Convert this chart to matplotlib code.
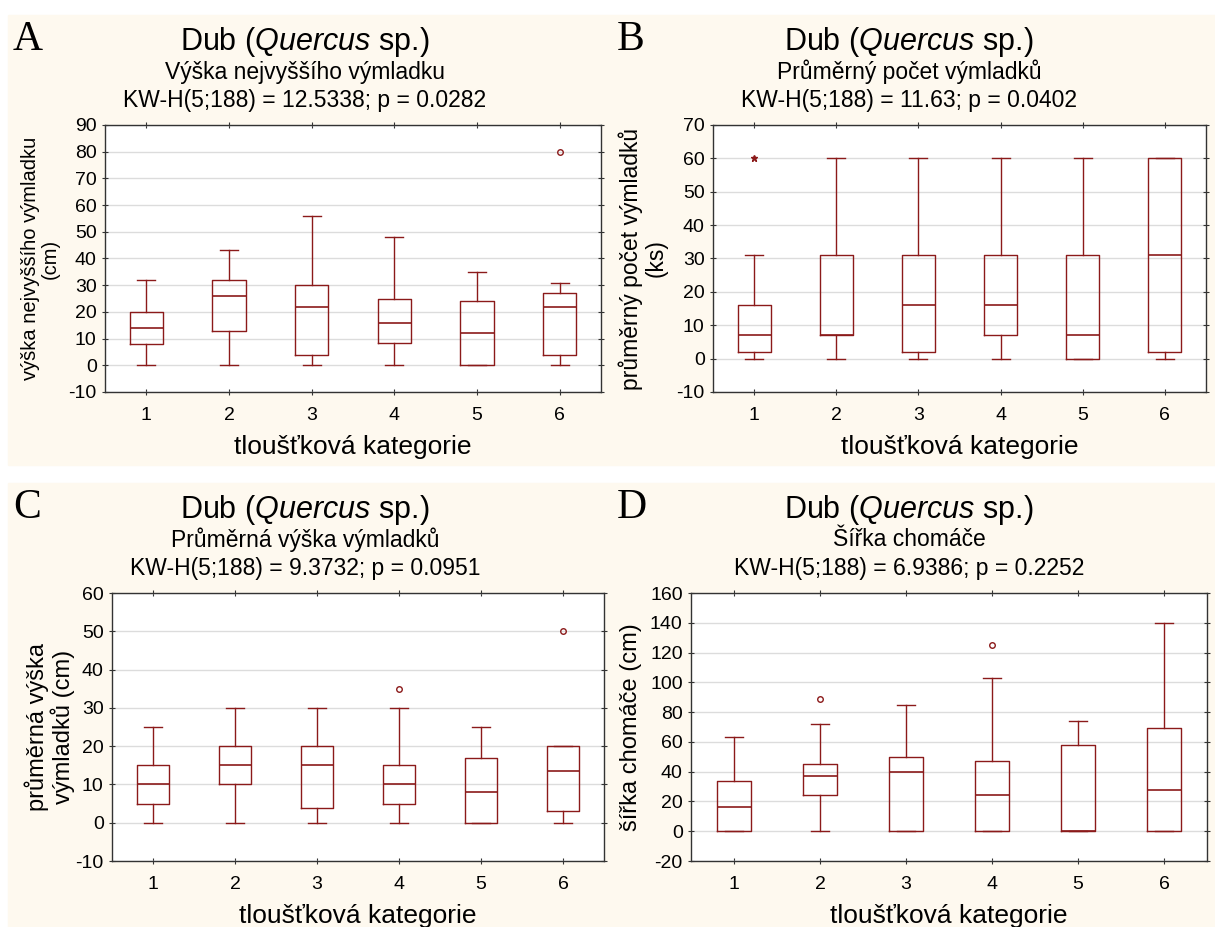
import matplotlib
matplotlib.use('Agg')
import matplotlib.pyplot as plt
from matplotlib.patches import Rectangle

W, H = 1215, 927
cats = ['1', '2', '3', '4', '5', '6']

# (low whisker, Q1, median, Q3, high whisker) per category
a_stats = [(0, 8, 14, 20, 32), (0, 13, 26, 32, 43), (0, 4, 22, 30, 56),
           (0, 8.5, 16, 25, 48), (0, 0, 12, 24, 35), (0, 4, 22, 27, 31)]
a_out = [[], [], [], [], [], [80]]
a_ext = [[], [], [], [], [], []]

b_stats = [(0, 2, 7, 16, 31), (0, 7, 7, 31, 60), (0, 2, 16, 31, 60),
           (0, 7, 16, 31, 60), (0, 0, 7, 31, 60), (0, 2, 31, 60, 60)]
b_out = [[], [], [], [], [], []]
b_ext = [[60], [], [], [], [], []]

c_stats = [(0, 5, 10, 15, 25), (0, 10, 15, 20, 30), (0, 3.8, 15, 20, 30),
           (0, 5, 10, 15, 30), (0, 0, 8, 17, 25), (0, 3, 13.5, 20, 20)]
c_out = [[], [], [], [35], [], [50]]
c_ext = [[], [], [], [], [], []]

d_stats = [(0, 0, 16, 34, 63), (0, 24, 37, 45, 72), (0, 0, 40, 50, 85),
           (0, 0, 24, 47.5, 103), (0, 0, 0, 58, 74), (0, 0, 28, 69, 140)]
d_out = [[], [89], [], [125], [], []]
d_ext = [[], [], [], [], [], []]

red = '#8b1a1a'
cream = '#fef9ef'

plt.rcParams['font.family'] = ['Liberation Sans', 'DejaVu Sans']
plt.rcParams['mathtext.fontset'] = 'custom'
plt.rcParams['mathtext.it'] = 'Liberation Sans:italic'
plt.rcParams['mathtext.rm'] = 'Liberation Sans'
plt.rcParams['axes.unicode_minus'] = False

fig = plt.figure(figsize=(W / 100, H / 100), dpi=100)
fig.patch.set_facecolor('white')
# cream panel backgrounds
fig.patches.append(Rectangle((8 / W, 1 - 465 / H), (W - 8) / W, 450 / H,
                             transform=fig.transFigure, color=cream, zorder=-10))
fig.patches.append(Rectangle((8 / W, 0), (W - 8) / W, 1 - 483 / H,
                             transform=fig.transFigure, color=cream, zorder=-10))


def panel(box, stats, outl, extr, ylim, yticks, ylabel, ylfs, ylpad, letter,
          subtitle, kw, pcx, ptop):
    x0, y0, x1, y1 = box
    ax = fig.add_axes([x0 / W, 1 - y1 / H, (x1 - x0) / W, (y1 - y0) / H])
    bxp = []
    for s, o in zip(stats, outl):
        bxp.append({'whislo': s[0], 'q1': s[1], 'med': s[2], 'q3': s[3],
                    'whishi': s[4], 'fliers': o})
    ax.bxp(bxp, positions=range(1, 7), widths=0.4, showfliers=True,
           boxprops=dict(color=red, lw=1.0),
           medianprops=dict(color=red, lw=1.2),
           whiskerprops=dict(color=red, lw=1.0),
           capprops=dict(color=red, lw=1.0),
           capwidths=0.22,
           flierprops=dict(marker='o', markersize=4, markerfacecolor='none',
                           markeredgecolor=red, markeredgewidth=1.0))
    for i, e in enumerate(extr):
        if e:
            ax.plot([i + 1] * len(e), e, marker='*', ls='none', color=red, ms=5)
    ax.set_xlim(0.5, 6.5)
    ax.set_ylim(*ylim)
    ax.set_yticks(yticks)
    ax.set_xticks(range(1, 7))
    ax.set_xticklabels(cats)
    ax.yaxis.grid(True, color='#dcdcdc', lw=1.0)
    ax.set_axisbelow(True)
    ax.tick_params(direction='inout', length=5, width=0.8, labelsize=14,
                   top=True, right=True, colors='#333333', labelcolor='black')
    ax.tick_params(axis='x', pad=8, labelsize=14)
    for sp in ax.spines.values():
        sp.set_color('#333333')
        sp.set_linewidth(1.0)
    ax.set_ylabel(ylabel, fontsize=ylfs, labelpad=ylpad, linespacing=1.1)
    ax.set_xlabel('tloušťková kategorie', fontsize=19, labelpad=8)

    fig.text((pcx - 292) / W, 1 - (ptop + 5) / H, letter, family='Liberation Serif',
             fontsize=30, va='top', ha='left')
    fig.text(pcx / W, 1 - (ptop + 27) / H, r'Dub ($\it{Quercus}$ sp.)',
             fontsize=22, ha='center', va='center')
    fig.text(pcx / W, 1 - (ptop + 57) / H, subtitle, fontsize=16.5,
             ha='center', va='center')
    fig.text(pcx / W, 1 - (ptop + 85) / H, kw, fontsize=16.5, ha='center', va='center')
    return ax


panel((105, 125, 601, 392), a_stats, a_out, a_ext, (-10, 90), range(-10, 91, 10),
      'výška nejvyššího výmladku\n(cm)', 14.5, 6, 'A', 'Výška nejvyššího výmladku',
      'KW-H(5;188) = 12.5338; p = 0.0282', 305, 15)
panel((713, 125, 1206, 392), b_stats, b_out, b_ext, (-10, 70), range(-10, 71, 10),
      'průměrný počet výmladků\n(ks)', 16.5, 6, 'B', 'Průměrný počet výmladků',
      'KW-H(5;188) = 11.63; p = 0.0402', 909, 15)
panel((112, 593, 604, 861), c_stats, c_out, c_ext, (-10, 60), range(-10, 61, 10),
      'průměrná výška\nvýmladků (cm)', 17, 0, 'C', 'Průměrná výška výmladků',
      'KW-H(5;188) = 9.3732; p = 0.0951', 305, 483)
panel((691, 593, 1207, 861), d_stats, d_out, d_ext, (-20, 160), range(-20, 161, 20),
      'šířka chomáče (cm)', 17, 6, 'D', 'Šířka chomáče',
      'KW-H(5;188) = 6.9386; p = 0.2252', 909, 483)

fig.savefig('out.png', dpi=100)
